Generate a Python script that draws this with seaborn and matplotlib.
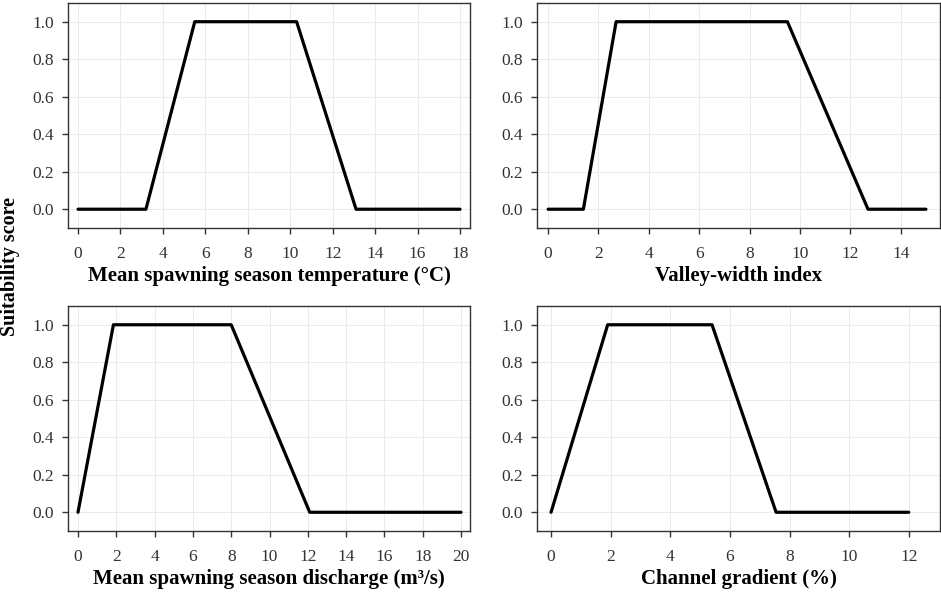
import matplotlib
matplotlib.use("Agg")
import matplotlib.pyplot as plt
import seaborn as sns
import pandas as pd

# Data: breakpoints of the suitability curves
temp_x = [0, 3.2, 5.5, 10.3, 13.1, 18]
temp_y = [0, 0, 1, 1, 0, 0]
vwi_x = [0, 1.4, 2.7, 9.5, 12.7, 15]
vwi_y = [0, 0, 1, 1, 0, 0]
dis_x = [0, 1.85, 8.0, 12.1, 20]
dis_y = [0, 1, 1, 0, 0]
grad_x = [0, 1.9, 5.4, 7.55, 12]
grad_y = [0, 1, 1, 0, 0]

xlabels = ["Mean spawning season temperature (°C)",
           "Valley-width index",
           "Mean spawning season discharge (m³/s)",
           "Channel gradient (%)"]
yticks = [0.0, 0.2, 0.4, 0.6, 0.8, 1.0]
xticks_list = [list(range(0, 19, 2)), list(range(0, 15, 2)),
               list(range(0, 21, 2)), list(range(0, 13, 2))]
xlims = [(-0.47, 18.47), (-0.44, 15.56), (-0.52, 20.47), (-0.47, 13.05)]

sns.set_theme(style="ticks")
plt.rcParams['font.family'] = ['Liberation Serif', 'DejaVu Serif']

fig = plt.figure(figsize=(9.41, 5.92), dpi=100)
positions = [
    [0.0723, 0.6149, 0.4272, 0.3801],
    [0.5707, 0.6149, 0.4283, 0.3801],
    [0.0723, 0.1030, 0.4272, 0.3801],
    [0.5707, 0.1030, 0.4283, 0.3801],
]
series = [(temp_x, temp_y), (vwi_x, vwi_y), (dis_x, dis_y), (grad_x, grad_y)]

for i, (pos, (xs, ys)) in enumerate(zip(positions, series)):
    ax = fig.add_axes(pos)
    df = pd.DataFrame({"x": xs, "y": ys})
    sns.lineplot(data=df, x="x", y="y", ax=ax, color="black", linewidth=2.3,
                 sort=False, estimator=None)
    ax.set_xlim(*xlims[i])
    ax.set_ylim(-0.1, 1.1)
    ax.set_xticks(xticks_list[i])
    ax.set_yticks(yticks)
    ax.set_yticklabels([f"{v:.1f}" for v in yticks])
    ax.grid(True, color="#ebebeb", linewidth=0.7)
    ax.set_axisbelow(True)
    for sp in ax.spines.values():
        sp.set_visible(True)
        sp.set_color("#333333")
        sp.set_linewidth(1.0)
    ax.tick_params(axis="both", direction="out", length=4, width=1.0,
                   color="#333333", labelsize=12.5, labelcolor="#333333")
    ax.tick_params(axis="x", pad=9)
    ax.tick_params(axis="y", pad=6)
    ax.set_xlabel(xlabels[i], fontsize=15, fontweight="bold", color="black", labelpad=3)
    ax.set_ylabel("")

fig.text(0.0105, 0.549, "Suitability score", rotation=90, va="center", ha="center",
         fontsize=14.5, fontweight="bold", color="black")

fig.savefig("out.png", dpi=100)
